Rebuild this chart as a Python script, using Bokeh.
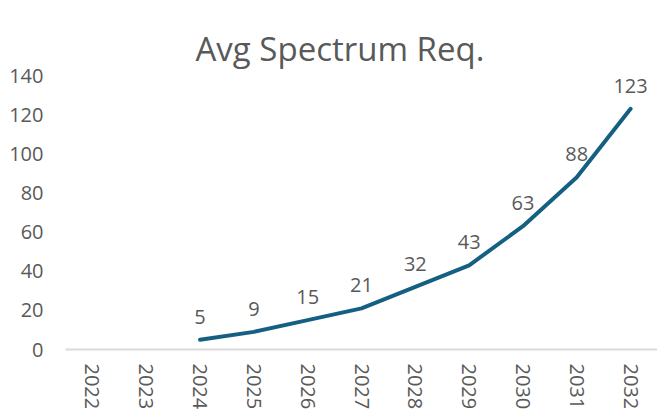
import math
from bokeh.plotting import figure
from bokeh.models import ColumnDataSource, FixedTicker, Title, Range1d, FactorRange
from bokeh.core.properties import value
from bokeh.embed import file_html
from bokeh.resources import INLINE

years = ["2022", "2023", "2024", "2025", "2026", "2027", "2028", "2029", "2030", "2031", "2032"]
line_years = ["2024", "2025", "2026", "2027", "2028", "2029", "2030", "2031", "2032"]
spectrum = [5, 9, 15, 21, 32, 43, 63, 88, 123]
y_ticks = [0, 20, 40, 60, 80, 100, 120, 140]
title_text = "Avg Spectrum Req."

FONT = "Open Sans"
GRAY = "#595959"
LINE = "#156082"

src = ColumnDataSource(data=dict(x=line_years, y=spectrum, lab=[str(v) for v in spectrum]))

p = figure(width=657, height=419, x_range=FactorRange(factors=years, range_padding=0),
           y_range=Range1d(0, 140), output_backend="svg", toolbar_location=None,
           min_border_left=65, min_border_right=0, min_border_bottom=70, min_border_top=75)

p.title = Title(text=title_text, align="left", offset=130,
                text_font=FONT, text_font_size="33px", text_font_style="normal",
                text_color=GRAY, standoff=10)

p.line("x", "y", source=src, line_color=LINE, line_width=4, line_cap="round", line_join="round")
p.text("x", "y", text="lab", source=src, text_font=value(FONT), text_font_size="20px",
       text_color=GRAY, text_align="center", text_baseline="alphabetic", y_offset=-23)

p.xgrid.grid_line_color = None
p.ygrid.grid_line_color = None
p.outline_line_color = None

p.yaxis.ticker = FixedTicker(ticks=y_ticks)
p.yaxis.axis_line_color = None
p.yaxis.major_tick_line_color = None
p.yaxis.minor_tick_line_color = None
p.yaxis.major_label_standoff = 16
p.yaxis.major_label_text_font = FONT
p.yaxis.major_label_text_font_size = "20px"
p.yaxis.major_label_text_color = GRAY

p.xaxis.axis_line_color = "#d9d9d9"
p.xaxis.axis_line_width = 2
p.xaxis.major_tick_line_color = None
p.xaxis.minor_tick_line_color = None
p.xaxis.major_label_orientation = -math.pi / 2
p.xaxis.major_label_standoff = 8
p.xaxis.major_label_text_font = FONT
p.xaxis.major_label_text_font_size = "20px"
p.xaxis.major_label_text_color = GRAY

p.background_fill_color = "white"
p.border_fill_color = "white"

open("out.html", "w").write(file_html(p, INLINE))
